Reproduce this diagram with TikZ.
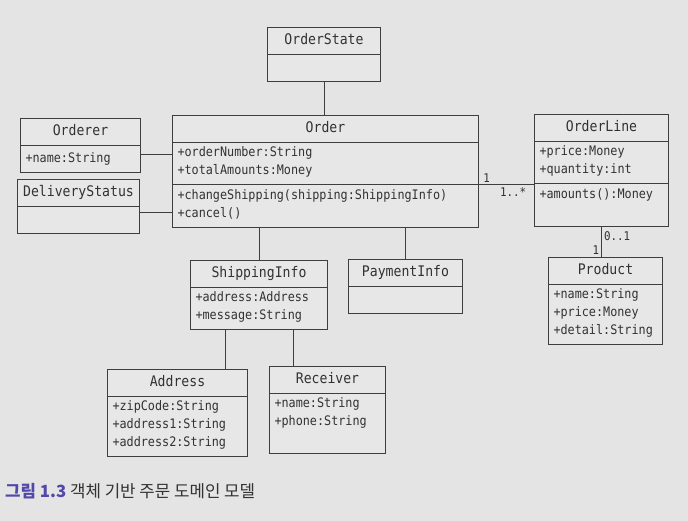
\documentclass[tikz,border=0pt]{standalone}
\usepackage{fontspec}
\setmonofont[FakeStretch=0.9]{DejaVu Sans Mono}
\newfontfamily\krfont{Noto Sans CJK KR}
\usepackage{tikz}
\usetikzlibrary{positioning, shapes.multipart}
\definecolor{pagebg}{RGB}{228,228,228}
\definecolor{boxfill}{RGB}{231,231,231}
\definecolor{umlline}{RGB}{62,62,62}
\definecolor{umltext}{RGB}{50,50,50}
\definecolor{figblue}{RGB}{82,72,170}
\newcommand{\umlname}[1]{{\fontsize{14.6}{18}\selectfont\strut #1}}
\tikzset{
  umlclass/.style={draw=umlline, line width=1pt, fill=boxfill, text=umltext,
                   rectangle split, rectangle split parts=2,
                   rectangle split part align={center, left, left},
                   align=left, anchor=north west, inner xsep=5pt, inner ysep=4pt,
                   font=\ttfamily\fontsize{13.1}{18}\selectfont},
  umlclass3/.style={umlclass, rectangle split parts=3},
  umlassoc/.style={draw=umlline, line width=1pt},
  mult/.style={font=\ttfamily\fontsize{12}{13}\selectfont, text=umltext, inner sep=2pt},
  caption/.style={font=\krfont\fontsize{16.8}{19}\selectfont, text=umltext, anchor=base west, inner sep=0pt}
}
\begin{document}
\begin{tikzpicture}[x=1pt, y=-1pt]

% Page
\fill[pagebg] (0,0) rectangle (688,521);

% Classes
\node[umlclass, minimum width=113pt] (orderstate) at (267,27)
  {\umlname{OrderState} \nodepart{two}\strut};
\node[umlclass3, minimum width=306pt] (order) at (172,115)
  {\umlname{Order}
   \nodepart{two}+orderNumber:String\\+totalAmounts:Money\strut
   \nodepart{three}+changeShipping(shipping:ShippingInfo)\\+cancel()\strut};
\node[umlclass, minimum width=120pt] (orderer) at (20,118)
  {\umlname{Orderer} \nodepart{two}+name:String\strut};
\node[umlclass, minimum width=122pt] (deliverystatus) at (17,179)
  {\umlname{DeliveryStatus} \nodepart{two}\strut};
\node[umlclass3, minimum width=134pt] (orderline) at (534,114)
  {\umlname{OrderLine}
   \nodepart{two}+price:Money\\+quantity:int\strut
   \nodepart{three}+amounts():Money\\\strut};
\node[umlclass, minimum width=114pt] (product) at (548,257)
  {\umlname{Product}
   \nodepart{two}+name:String\\+price:Money\\+detail:String\strut};
\node[umlclass, minimum width=137pt] (shippinginfo) at (190,260)
  {\umlname{ShippingInfo}
   \nodepart{two}+address:Address\\+message:String\strut};
\node[umlclass, minimum width=114pt] (paymentinfo) at (348,259)
  {\umlname{PaymentInfo} \nodepart{two}\strut};
\node[umlclass, minimum width=140pt] (address) at (107,369)
  {\umlname{Address}
   \nodepart{two}+zipCode:String\\+address1:String\\+address2:String\strut};
\node[umlclass, minimum width=116pt] (receiver) at (269,366)
  {\umlname{Receiver}
   \nodepart{two}+name:String\\+phone:String\\\strut};

% Associations
\draw[umlassoc] (orderstate.south) -- (orderstate.south |- order.north);
\draw[umlassoc] ([yshift=-9pt]orderer.one split east) -- ([yshift=-9pt]orderer.one split east -| order.west);
\draw[umlassoc] ([yshift=-6pt]deliverystatus.one split east) -- ([yshift=-6pt]deliverystatus.one split east -| order.west);
\draw[umlassoc] (order.two split east) -- node[pos=0.14, above, mult] {1} node[pos=0.62, below, mult] {1..*} (order.two split east -| orderline.west);
\draw[umlassoc] (orderline.south) -- node[pos=0.3, right, mult] {0..1} node[pos=0.78, left, mult] {1} (orderline.south |- product.north);
\draw[umlassoc] (shippinginfo.north |- order.south) -- (shippinginfo.north);
\draw[umlassoc] (paymentinfo.north |- order.south) -- (paymentinfo.north);
\draw[umlassoc] ([xshift=-34pt]shippinginfo.south) -- ([xshift=-34pt]shippinginfo.south |- address.north);
\draw[umlassoc] ([xshift=34pt]shippinginfo.south) -- ([xshift=34pt]shippinginfo.south |- receiver.north);

% Caption
\node[caption] (figcaption) at (5,497) {{\color{figblue}\bfseries 그림 1.3} 객체 기반 주문 도메인 모델};

\end{tikzpicture}
\end{document}
